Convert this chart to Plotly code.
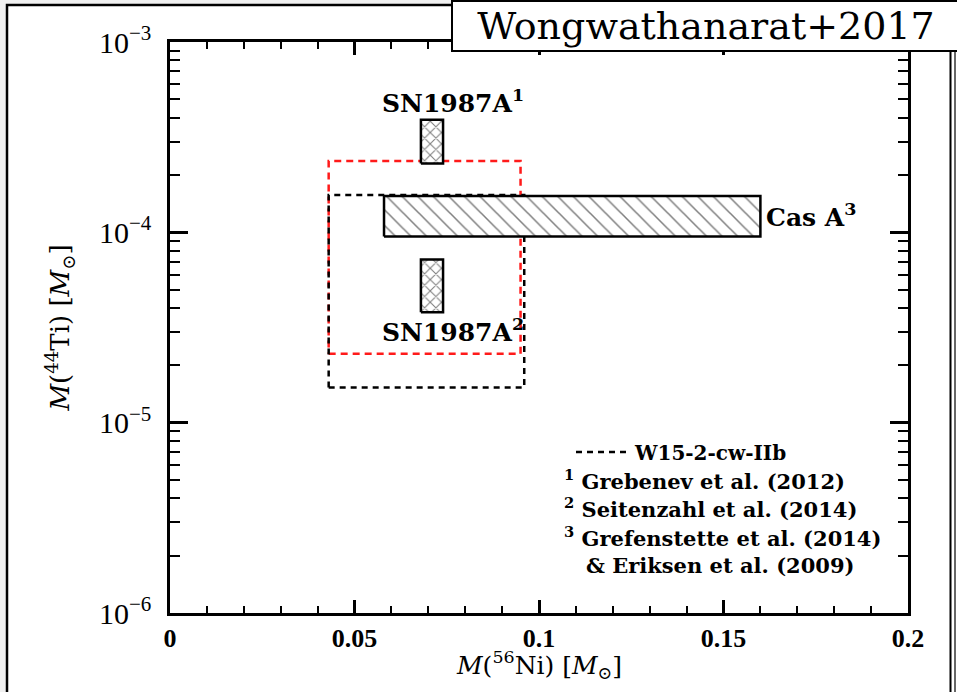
import plotly.graph_objects as go

# Observed / modelled ranges of 56Ni mass (x) and 44Ti mass (y), in solar masses
casa_ni = [0.058, 0.16]
casa_ti = [0.95e-4, 1.55e-4]
sn1_ni = [0.068, 0.074]
sn1_ti = [2.3e-4, 3.9e-4]
sn2_ni = [0.068, 0.074]
sn2_ti = [0.38e-4, 0.72e-4]
w15_ni = [0.043, 0.096]
w15_ti = [1.53e-5, 1.57e-4]
red_ni = [0.043, 0.095]
red_ti = [2.3e-5, 2.37e-4]

x_ticks = [0, 0.05, 0.1, 0.15, 0.2]
x_labels = ["0", "0.05", "0.1", "0.15", "0.2"]
y_ticks = [1e-6, 1e-5, 1e-4, 1e-3]
y_labels = ["10<sup>−6</sup>", "10<sup>−5</sup>", "10<sup>−4</sup>", "10<sup>−3</sup>"]

SERIF = "DejaVu Serif"
TIMES = "Liberation Serif"

# page geometry (pixels)
W, H = 957, 692
L, R, T, B = 170, 49, 42, 79
PW, PH = W - L - R, H - T - B


def px(x):
    return (x - L) / PW


def py(y):
    return (H - B - y) / PH


def rect(xr, yr):
    return ([xr[0], xr[1], xr[1], xr[0], xr[0]],
            [yr[0], yr[0], yr[1], yr[1], yr[0]])


fig = go.Figure()

# model boxes (dashed)
x, y = rect(red_ni, red_ti)
fig.add_trace(go.Scatter(x=x, y=y, mode="lines", showlegend=False,
                         line=dict(color="#ff1a1a", width=2.5, dash="7px,5px")))
x, y = rect(w15_ni, w15_ti)
fig.add_trace(go.Scatter(x=x, y=y, mode="lines", name="<b>W15-2-cw-IIb</b>",
                         line=dict(color="black", width=2.5, dash="6px,5px")))

# observations (hatched)
x, y = rect(casa_ni, casa_ti)
fig.add_trace(go.Scatter(x=x, y=y, mode="lines", fill="toself", showlegend=False,
                         line=dict(color="black", width=2.5),
                         fillcolor="white",
                         fillpattern=dict(shape="\\", size=11, solidity=0.14,
                                          fgcolor="black", bgcolor="white")))
for ni, ti in [(sn1_ni, sn1_ti), (sn2_ni, sn2_ti)]:
    x, y = rect(ni, ti)
    fig.add_trace(go.Scatter(x=x, y=y, mode="lines", fill="toself", showlegend=False,
                             line=dict(color="black", width=2.5),
                             fillcolor="white",
                             fillpattern=dict(shape="x", size=8, solidity=0.25,
                                              fgcolor="black", bgcolor="white")))

lab = dict(family=SERIF, size=25, color="black")
fig.add_annotation(x=0.057, y=-3.41, text="<b>SN1987A<sup>1</sup></b>",
                   xanchor="left", yanchor="bottom", showarrow=False, font=lab)
fig.add_annotation(x=0.057, y=-4.42, text="<b>SN1987A<sup>2</sup></b>",
                   xanchor="left", yanchor="top", showarrow=False, font=lab)
fig.add_annotation(x=0.161, y=-3.91, text="<b>Cas A<sup>3</sup></b>",
                   xanchor="left", yanchor="middle", showarrow=False, font=lab)

# reference list under the legend entry
refs = ["<b><sup>1</sup> Grebenev et al. (2012)</b>",
        "<b><sup>2</sup> Seitenzahl et al. (2014)</b>",
        "<b><sup>3</sup> Grefenstette et al. (2014)</b>",
        "<b>   & Eriksen et al. (2009)</b>"]
ref_y = [480, 508, 537, 565]
for t, yy in zip(refs, ref_y):
    fig.add_annotation(xref="paper", yref="paper", x=px(562), y=py(yy), text=t,
                       xanchor="left", yanchor="middle", showarrow=False,
                       font=dict(family=SERIF, size=21, color="black"))

# x-axis title
fig.add_annotation(xref="paper", yref="paper", x=0.5, y=py(665),
                   text="<i>M</i>(<sup>56</sup>Ni) [<i>M</i><sub>⊙</sub>]",
                   xanchor="center", yanchor="middle", showarrow=False,
                   font=dict(family=SERIF, size=25, color="black"))

# slide frame
fig.add_shape(type="rect", xref="paper", yref="paper", layer="below",
              x0=px(7), x1=px(990), y0=py(720), y1=py(5),
              fillcolor="white", line=dict(color="black", width=2.5))
fig.add_shape(type="line", xref="paper", yref="paper",
              x0=px(950.5), x1=px(950.5), y0=py(720), y1=py(5),
              line=dict(color="black", width=2))
fig.add_shape(type="line", xref="paper", yref="paper",
              x0=px(955), x1=px(955), y0=py(720), y1=py(5),
              line=dict(color="#333", width=1.5))

fig.add_annotation(xref="paper", yref="paper", x=px(451), y=py(0),
                   xanchor="left", yanchor="top", showarrow=False,
                   text="Wongwathanarat+2017", width=506, height=48,
                   align="center", valign="middle",
                   bgcolor="white", bordercolor="black", borderwidth=2, borderpad=0,
                   font=dict(family=SERIF, size=38, color="black"))

axis_common = dict(showline=True, linecolor="black", linewidth=2.5,
                   mirror="ticks", ticks="inside", tickcolor="black",
                   showgrid=False, zeroline=False)

fig.update_xaxes(range=[0, 0.2], tickvals=x_ticks,
                 ticktext=[f"<b>{s}</b>" for s in x_labels],
                 ticklen=13, tickwidth=2.5,
                 minor=dict(ticks="inside", dtick=0.01, ticklen=7, tickwidth=2,
                            tickcolor="black", showgrid=False),
                 tickfont=dict(family=TIMES, size=26, color="black"),
                 **axis_common)

minor_y = [k * 10.0 ** e for e in (-6, -5, -4) for k in range(2, 10)]
fig.update_yaxes(type="log", range=[-6, -3], tickvals=y_ticks, ticktext=y_labels,
                 ticklen=18, tickwidth=2.5, ticklabelstandoff=10,
                 minor=dict(ticks="inside", tickvals=minor_y, ticklen=10, tickwidth=2,
                            tickcolor="black", showgrid=False),
                 tickfont=dict(family=TIMES, size=30, color="black"),
                 title=dict(text="<i>M</i>(<sup>44</sup>Ti) [<i>M</i><sub>⊙</sub>]",
                            font=dict(family=SERIF, size=26, color="black"),
                            standoff=22),
                 **axis_common)

fig.update_layout(
    width=W, height=H,
    margin=dict(l=L, r=R, t=T, b=B, autoexpand=False),
    paper_bgcolor="#f0f0f0", plot_bgcolor="white",
    showlegend=True,
    legend=dict(x=px(571), y=py(452), xanchor="left", yanchor="middle",
                bgcolor="rgba(0,0,0,0)", borderwidth=0,
                font=dict(family=SERIF, size=20, color="black"),
                itemwidth=54, tracegroupgap=0),
)

fig.write_html("out.html")
